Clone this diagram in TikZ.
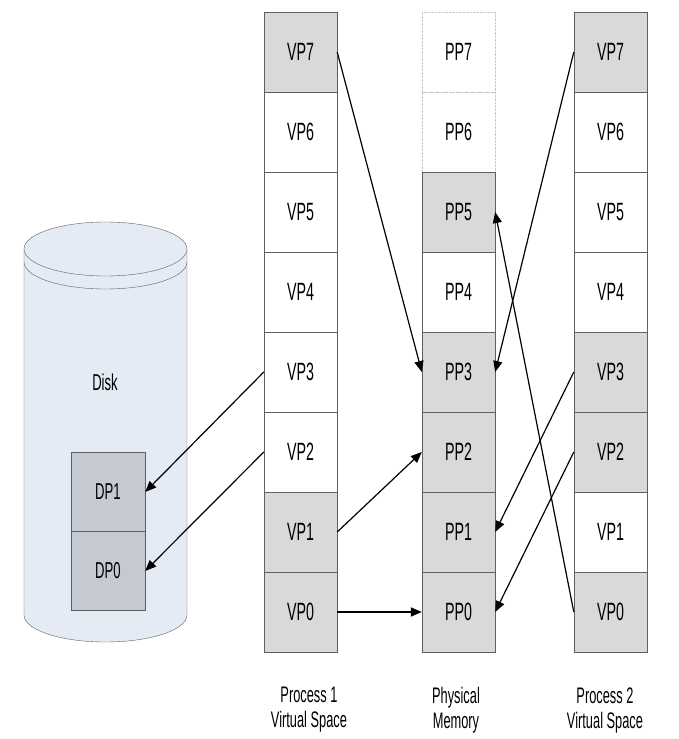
\documentclass[tikz,border=0pt]{standalone}
\usepackage{fontspec}
\setmainfont{Liberation Sans}[FakeStretch=0.57]
\usepackage{tikz}
\usetikzlibrary{arrows.meta,positioning}

\definecolor{diskfill}{RGB}{228,235,245}
\definecolor{dpfill}{RGB}{197,202,210}
\definecolor{cellgray}{RGB}{217,217,217}
\definecolor{edge}{RGB}{95,95,95}

\begin{document}
\begin{tikzpicture}[x=1pt, y=-1pt,
    cell/.style={draw=edge, minimum width=73pt, minimum height=80pt, inner sep=0pt, font=\fontsize{25}{28}\selectfont},
    used/.style={cell, fill=cellgray},
    free/.style={cell, draw=gray!45, densely dotted},
    dpage/.style={draw=edge, fill=dpfill, minimum width=74pt, minimum height=79pt, inner sep=0pt, font=\fontsize{23}{26}\selectfont},
    spacelabel/.style={align=center, font=\fontsize{22.5}{25}\selectfont},
    arr/.style={-{Triangle[length=11pt, width=9pt]}, line width=1.2pt}
]
\useasboundingbox (0,0) rectangle (678,739);

% disk
\draw[edge, fill=diskfill] (24,249) -- (24,615) arc[start angle=180, end angle=0, x radius=81.5, y radius=27] -- (187,249) -- cycle;
\draw[edge, fill=diskfill] (105.5,249) ellipse[x radius=81.5, y radius=27];
\draw[edge] (24,262) arc[start angle=180, end angle=0, x radius=81.5, y radius=27];
\node[font=\fontsize{23}{26}\selectfont] (disk) at (105,382) {Disk};
\node[dpage] (dp1) at (108,492) {DP1};
\node[dpage] (dp0) at (108,571) {DP0};

% process 1
\node[used] (avp7) at (300.5,52) {VP7};
\node[cell] (avp6) at (300.5,132) {VP6};
\node[cell] (avp5) at (300.5,212) {VP5};
\node[cell] (avp4) at (300.5,292) {VP4};
\node[cell] (avp3) at (300.5,372) {VP3};
\node[cell] (avp2) at (300.5,452) {VP2};
\node[used] (avp1) at (300.5,532) {VP1};
\node[used] (avp0) at (300.5,612) {VP0};

% physical memory
\node[free] (pp7) at (458.5,52) {PP7};
\node[free] (pp6) at (458.5,132) {PP6};
\node[used] (pp5) at (458.5,212) {PP5};
\node[cell] (pp4) at (458.5,292) {PP4};
\node[used] (pp3) at (458.5,372) {PP3};
\node[used] (pp2) at (458.5,452) {PP2};
\node[used] (pp1) at (458.5,532) {PP1};
\node[used] (pp0) at (458.5,612) {PP0};

% process 2
\node[used] (bvp7) at (610.5,52) {VP7};
\node[cell] (bvp6) at (610.5,132) {VP6};
\node[cell] (bvp5) at (610.5,212) {VP5};
\node[cell] (bvp4) at (610.5,292) {VP4};
\node[used] (bvp3) at (610.5,372) {VP3};
\node[used] (bvp2) at (610.5,452) {VP2};
\node[cell] (bvp1) at (610.5,532) {VP1};
\node[used] (bvp0) at (610.5,612) {VP0};

\node[spacelabel] (lbla) at (309,710) {Process 1\\Virtual Space};
\node[spacelabel] (lblm) at (456,710) {Physical\\Memory};
\node[spacelabel] (lblb) at (605,710) {Process 2\\Virtual Space};

\draw[arr] (avp7.east) -- (pp3.west);
\draw[arr] (avp3.west) -- (dp1.east);
\draw[arr] (avp2.west) -- (dp0.east);
\draw[arr] (avp1.east) -- (pp2.west);
\draw[arr, line width=1.8pt] (avp0.east) -- (pp0.west);
\draw[arr] (bvp7.west) -- (pp3.east);
\draw[arr] (bvp3.west) -- (pp1.east);
\draw[arr] (bvp2.west) -- (pp0.east);
\draw[arr] (bvp0.west) -- (pp5.east);
\end{tikzpicture}
\end{document}
